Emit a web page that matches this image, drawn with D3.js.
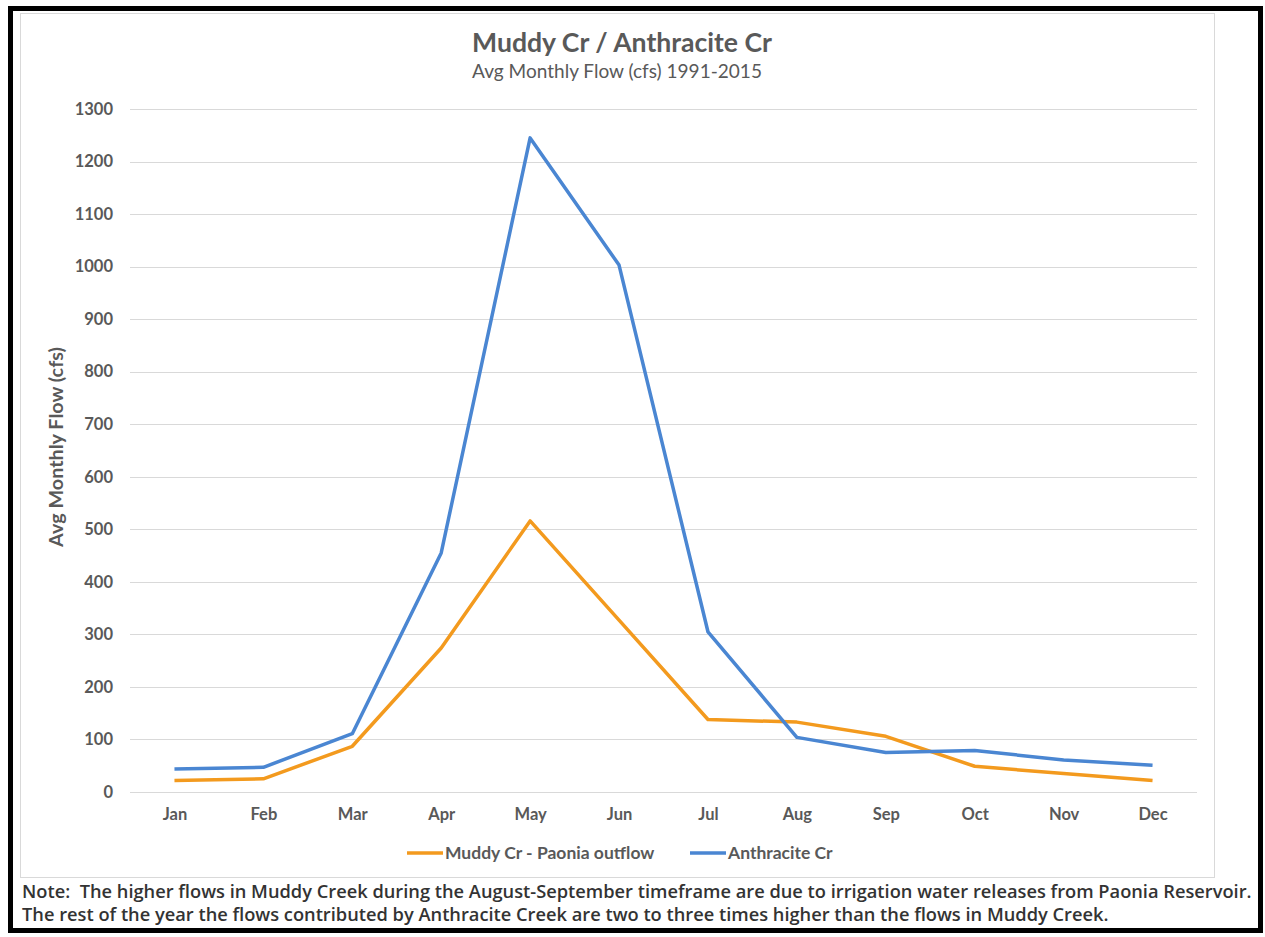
<!DOCTYPE html>
<html>
<head>
<meta charset="utf-8">
<script src="https://cdn.jsdelivr.net/npm/d3@7"></script>
<style>
  body { margin: 0; background: #fff; }
  text { font-family: Lato, "Open Sans", sans-serif; }
</style>
</head>
<body>
<svg id="chart" width="1265" height="937"></svg>
<script>
/* months along the x axis */
var months = ["Jan", "Feb", "Mar", "Apr", "May", "Jun", "Jul", "Aug", "Sep", "Oct", "Nov", "Dec"];

/* avg monthly flow in cfs */
var muddy = [22, 25, 87, 274, 516, 327, 138, 133, 106, 49, 35, 22];
var anthracite = [44, 47, 111, 455, 1245, 1003, 305, 104, 75, 79, 61, 51];

var yTicks = [0, 100, 200, 300, 400, 500, 600, 700, 800, 900, 1000, 1100, 1200, 1300];

var seriesNames = ["Muddy Cr - Paonia outflow", "Anthracite Cr"];
var seriesColors = ["#f39a1e", "#4a86d2"];

var noteLines = [
  "Note:  The higher flows in Muddy Creek during the August-September timeframe are due to irrigation water releases from Paonia Reservoir.",
  "The rest of the year the flows contributed by Anthracite Creek are two to three times higher than the flows in Muddy Creek."
];

var svg = d3.select("#chart");

/* chart area box and outer black frame */
svg.append("rect")
  .attr("x", 20.5).attr("y", 13.5)
  .attr("width", 1194).attr("height", 864)
  .attr("fill", "#fff")
  .attr("stroke", "#d9d9d9");

svg.append("rect")
  .attr("x", 10.5).attr("y", 8.5)
  .attr("width", 1250).attr("height", 922)
  .attr("fill", "none")
  .attr("stroke", "#000")
  .attr("stroke-width", 5);

/* scales */
var x = d3.scalePoint().domain(months).range([130, 1197]).padding(0.5);
var y = d3.scaleLinear().domain([0, 1300]).range([792, 109]);

/* gridlines */
svg.append("g")
  .selectAll("line")
  .data(yTicks)
  .enter().append("line")
  .attr("x1", 130).attr("x2", 1197)
  .attr("y1", function(d) { return Math.round(y(d)) + 0.5; })
  .attr("y2", function(d) { return Math.round(y(d)) + 0.5; })
  .attr("stroke", "#d9d9d9")
  .attr("stroke-width", 1);

/* y axis labels */
var yAxis = d3.axisLeft(y).tickValues(yTicks).tickFormat(d3.format("d")).tickSize(0).tickPadding(0);
var gy = svg.append("g").attr("transform", "translate(113,0)").call(yAxis);
gy.select(".domain").remove();
gy.selectAll("text")
  .attr("fill", "#595959")
  .style("font-size", "16.5px")
  .style("font-weight", "bold");

/* x axis labels */
var xAxis = d3.axisBottom(x).tickSize(0).tickPadding(0);
var gx = svg.append("g").attr("transform", "translate(0,808)").call(xAxis);
gx.select(".domain").remove();
gx.selectAll("text")
  .attr("fill", "#595959")
  .style("font-size", "16.5px")
  .style("font-weight", "bold");

/* lines */
var line = d3.line()
  .x(function(d, i) { return x(months[i]); })
  .y(function(d) { return y(d); });

[muddy, anthracite].forEach(function(data, i) {
  svg.append("path")
    .datum(data)
    .attr("d", line)
    .attr("fill", "none")
    .attr("stroke", seriesColors[i])
    .attr("stroke-width", 3.5)
    .attr("stroke-linejoin", "round");
});

/* shrink or grow a text's font so it spans the given width */
function fit(sel, width) {
  sel.each(function() {
    var size = parseFloat(this.style.fontSize);
    var len = this.getComputedTextLength();
    this.style.fontSize = (size * width / len).toFixed(2) + "px";
  });
}

/* titles */
svg.append("text")
  .attr("x", 622).attr("y", 52)
  .attr("text-anchor", "middle")
  .attr("fill", "#595959")
  .style("font-size", "22px")
  .style("font-weight", "bold")
  .text("Muddy Cr / Anthracite Cr")
  .call(fit, 300);

svg.append("text")
  .attr("x", 617).attr("y", 78)
  .attr("text-anchor", "middle")
  .attr("fill", "#595959")
  .style("font-size", "16px")
  .text("Avg Monthly Flow (cfs) 1991-2015")
  .call(fit, 290);

svg.append("text")
  .attr("transform", "translate(63,447) rotate(-90)")
  .attr("text-anchor", "middle")
  .attr("fill", "#595959")
  .style("font-size", "15px")
  .style("font-weight", "bold")
  .text("Avg Monthly Flow (cfs)")
  .call(fit, 200);

/* legend */
var legendX = [407, 690];
var legend = svg.append("g")
  .selectAll("g")
  .data(seriesNames)
  .enter().append("g")
  .attr("transform", function(d, i) { return "translate(" + legendX[i] + ",853)"; });

legend.append("line")
  .attr("x1", 0).attr("x2", 36)
  .attr("stroke", function(d, i) { return seriesColors[i]; })
  .attr("stroke-width", 3.5);

legend.append("text")
  .attr("x", 38).attr("y", 6)
  .attr("fill", "#595959")
  .style("font-size", "17.5px")
  .style("font-weight", "bold")
  .text(function(d) { return d; });

/* note under the chart */
svg.append("g")
  .selectAll("text")
  .data(noteLines)
  .enter().append("text")
  .attr("x", 22)
  .attr("y", function(d, i) { return 898 + i * 23; })
  .attr("fill", "#333")
  .style("white-space", "pre")
  .style("font-family", "'Open Sans', sans-serif")
  .style("font-size", "16px")
  .style("font-weight", "600")
  .text(function(d) { return d; })
  .call(fit, 1230);

/* second note line keeps the first line's size */
var noteSize = svg.selectAll("g text").filter(function(d) { return d === noteLines[0]; }).style("font-size");
svg.selectAll("g text").filter(function(d) { return d === noteLines[1]; }).style("font-size", noteSize);
</script>
</body>
</html>
